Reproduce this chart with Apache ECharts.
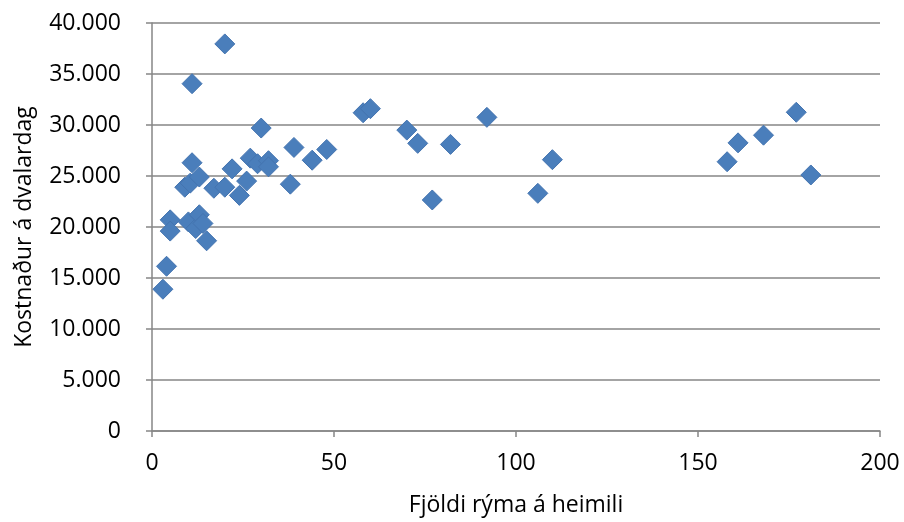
<!DOCTYPE html>
<html>
<head>
<meta charset="utf-8">
<script src="https://cdn.jsdelivr.net/npm/echarts@6/dist/echarts.min.js"></script>
<style>html,body{margin:0;padding:0;background:#fff}#c{width:904px;height:522px}</style>
</head>
<body>
<div id="c"></div>
<script>
const roomCounts = [3,4,5,5,11,20,11,9,10.5,13,10,12,13,14,15,17,20,22,24,26,27,29,30,32,32,38,39,44,48,58,60,70,73,77,82,92,106,110,158,161,168,177,181];
const costPerDay = [13900,16150,20700,19600,34050,37950,26300,23900,24300,24900,20500,19850,21200,20350,18650,23800,23900,25700,23100,24500,26750,26200,29700,26500,25900,24200,27800,26550,27600,31200,31600,29500,28200,22650,28100,30750,23300,26600,26400,28250,29000,31250,25100];
const xTitle = 'Fjöldi rýma á heimili';
const yTitle = 'Kostnaður á dvalardag';

const points = roomCounts.map((x, i) => [x, costPerDay[i]]);
const fmtY = v => String(v).replace(/\B(?=(\d{3})+(?!\d))/g, '.');
const font = '"Open Sans", sans-serif';
const axisColor = '#868686';

const chart = echarts.init(document.getElementById('c'), null, {renderer: 'canvas'});
chart.setOption({
  animation: false,
  backgroundColor: '#fff',
  grid: {left: 152, right: 24, top: 23, bottom: 88, containLabel: false},
  xAxis: {
    type: 'value', min: 0, max: 200, interval: 50,
    name: xTitle, nameLocation: 'middle', nameGap: 63,
    nameTextStyle: {fontFamily: font, fontSize: 23, color: '#000'},
    axisLine: {show: true, onZero: false, lineStyle: {color: axisColor, width: 1.5}},
    axisTick: {show: true, length: 6, lineStyle: {color: axisColor, width: 1.5}},
    axisLabel: {fontFamily: font, fontSize: 23, color: '#000', margin: 21},
    splitLine: {show: false}
  },
  yAxis: {
    type: 'value', min: 0, max: 40000, interval: 5000,
    name: yTitle, nameLocation: 'middle', nameGap: 116, nameRotate: 90,
    nameTextStyle: {fontFamily: font, fontSize: 23, color: '#000'},
    axisLine: {show: true, lineStyle: {color: axisColor, width: 1.5}},
    axisTick: {show: true, length: 6, lineStyle: {color: axisColor, width: 1.5}},
    axisLabel: {fontFamily: font, fontSize: 23, color: '#000', margin: 31, formatter: fmtY},
    splitLine: {show: true, lineStyle: {color: axisColor, width: 1.5}}
  },
  series: [{
    type: 'scatter',
    symbol: 'diamond',
    symbolSize: 20,
    data: points,
    itemStyle: {color: '#4A7EBB', borderColor: '#4474B0', borderWidth: 1, opacity: 1}
  }]
});
</script>
</body>
</html>
